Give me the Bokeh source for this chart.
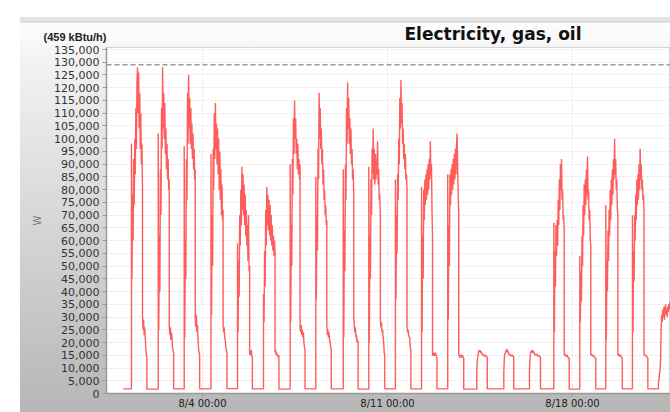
import pandas as pd
from bokeh.plotting import figure
from bokeh.models import (ColumnDataSource, FixedTicker, SingleIntervalTicker, NumeralTickFormatter,
                          CustomJSTickFormatter, Span, Title, Spacer, Range1d)
from bokeh.layouts import column, row
from bokeh.embed import file_html
from bokeh.resources import INLINE

# ---------------- data ----------------
title_text = "Electricity, gas, oil"
unit_note = "(459 kBtu/h)"
y_label = "W"

data_start = "2010-08-01 00:00"
tick_dates = ["2010-08-04 00:00", "2010-08-11 00:00", "2010-08-18 00:00"]
peak_w = 129000  # dashed reference line (W)

# time each day's occupied period starts
day_start = [
    "2010-08-01 07:30", "2010-08-02 07:48", "2010-08-03 07:24", "2010-08-04 07:42",
    "2010-08-05 07:48", "2010-08-06 07:24", "2010-08-07 07:36", "2010-08-08 06:54",
    "2010-08-09 07:48", "2010-08-10 07:00", "2010-08-11 07:12", "2010-08-12 06:54",
    "2010-08-13 06:42", "2010-08-14 09:06", "2010-08-15 09:36", "2010-08-16 08:54",
    "2010-08-17 07:00", "2010-08-18 06:36", "2010-08-19 06:12", "2010-08-20 06:24",
    "2010-08-21 06:00",
]

# daytime load, kW, every 30 minutes from the start
day_high_kw = [
    [98, 45, 78, 60, 92, 74, 100, 86, 112, 96, 122, 128, 110, 126, 104, 118, 96, 110, 90, 98, 80],
    [102, 25, 62, 40, 88, 70, 112, 96, 128, 104, 118, 100, 114, 94, 104, 88, 98, 84, 92, 80, 84],
    [97, 22, 60, 45, 92, 76, 118, 98, 125, 104, 116, 98, 112, 96, 106, 92, 102, 88, 96, 84, 88],
    [94, 31, 70, 50, 96, 80, 110, 92, 114, 96, 106, 90, 104, 86, 100, 80, 95, 76, 88, 70, 82, 68, 72],
    [59, 24, 52, 38, 70, 58, 80, 66, 89, 72, 86, 70, 82, 66, 78, 62, 72, 58, 66, 52, 70, 48, 50],
    [39, 28, 56, 42, 72, 58, 81, 66, 78, 64, 76, 62, 74, 60, 70, 58, 66, 56, 62, 54, 60, 55],
    [90, 28, 66, 50, 92, 78, 108, 94, 115, 100, 108, 94, 100, 88, 98, 86, 92, 84, 90],
    [85, 37, 70, 56, 96, 84, 118, 100, 112, 96, 104, 90, 96, 82, 88, 76, 80, 70, 74, 66, 68],
    [88, 22, 64, 48, 90, 76, 112, 98, 122, 104, 116, 98, 108, 94, 104, 90, 96, 84, 88, 78],
    [89, 20, 62, 45, 84, 70, 96, 86, 104, 84, 96, 82, 94, 84, 92, 86, 99, 82, 88, 76, 78, 70],
    [84, 37, 70, 55, 86, 76, 100, 90, 116, 104, 123, 106, 114, 98, 104, 92, 98, 88, 94, 84, 86, 80],
    [81, 24, 62, 45, 80, 68, 84, 74, 86, 76, 88, 78, 90, 80, 92, 84, 99, 86, 90, 72, 60],
    [86, 29, 66, 50, 86, 74, 88, 78, 90, 80, 92, 82, 94, 84, 96, 86, 98, 102, 88, 78, 70],
    [9, 13, 15, 16, 17, 16.5, 17, 16, 16.5, 15.5, 15, 15.5, 15, 15, 14.5, 15, 15, 14.5, 14.5, 14],
    [8, 14, 15.5, 16, 17, 16.5, 17.5, 16, 16.5, 15.5, 15, 15.5, 15, 15, 14.5, 15, 15, 14.5, 14.5],
    [9, 14, 16, 16.5, 17, 16, 17, 16, 16.5, 15.5, 15, 15.5, 15, 15.5, 15, 15, 14.5, 15, 14.5, 14.5, 14],
    [67, 24, 56, 42, 66, 54, 68, 58, 76, 66, 84, 72, 90, 80, 92, 76, 80, 68, 70, 63],
    [54, 28, 48, 36, 62, 50, 74, 62, 82, 70, 84, 74, 88, 78, 93, 76, 80, 68, 72, 60, 58],
    [74, 21, 52, 40, 64, 52, 72, 62, 80, 68, 84, 74, 88, 78, 92, 84, 100, 86, 92, 80, 84, 72, 70],
    [70, 24, 56, 44, 70, 60, 78, 68, 84, 74, 86, 76, 90, 80, 96, 84, 90, 80, 84, 76, 78, 72],
    [4, 6, 8, 9, 14, 26, 31, 28, 33, 30, 34, 29, 32, 35, 31, 33, 30, 34, 32, 35, 33, 36, 34],
]

# evening load, kW, every 30 minutes after the daytime drop
day_mid_kw = [
    [30, 25, 29, 23, 26, 22, 18, 15, 14],
    [27, 23, 26, 21, 24, 22, 18, 17, 16],
    [30, 26, 31, 24, 27, 22, 18, 16, 15],
    [27, 24, 26, 22, 21, 18, 17, 16],
    [16, 15, 16, 17, 15, 14],
    [16, 17, 15, 16, 15, 15, 14, 15],
    [26, 24, 27, 23, 25, 22, 24, 20, 18, 17],
    [27, 23, 25, 22, 24, 21, 20, 18, 18],
    [30, 27, 24, 26, 22, 23, 20, 21, 20],
    [29, 26, 28, 24, 25, 22, 20, 16, 15],
    [26, 24, 25, 23, 22, 22, 18, 17],
    [15, 15, 16, 15, 15, 16, 15, 15, 14],
    [15, 15, 14, 15, 15, 15, 14, 15, 14, 14],
    [],
    [],
    [],
    [15, 15.5, 15, 14.5, 15, 15, 14.5, 14, 14, 14],
    [15, 15.5, 15, 15, 14.5, 15, 14.5, 14, 14, 14],
    [15, 15, 15.5, 15, 14.5, 15, 14.5, 14, 14],
    [15, 15.5, 15, 15, 14.5, 14.5, 14, 14],
    [],
]

# overnight base load preceding each day, kW
night_base_kw = [1.8, 1.7, 1.8, 1.8, 1.9, 1.8, 1.7, 1.8, 1.8, 1.7, 1.8,
                 1.8, 1.8, 1.7, 1.8, 1.8, 1.8, 1.7, 1.8, 1.8, 1.8]

# ---------------- build series ----------------
step = pd.Timedelta(minutes=30)
xs, ys = [pd.Timestamp(data_start)], [night_base_kw[0] * 1000]
n_days = len(day_start)
for i in range(n_days):
    t0 = pd.Timestamp(day_start[i])
    xs.append(t0); ys.append(night_base_kw[i] * 1000)
    hi = day_high_kw[i]
    for k, v in enumerate(hi):
        xs.append(t0 + k * step); ys.append(v * 1000)
    t1 = t0 + (len(hi) - 1) * step
    mid = day_mid_kw[i]
    for k, v in enumerate(mid):
        xs.append(t1 + k * step); ys.append(v * 1000)
    t2 = t1 + max(len(mid) - 1, 0) * step
    if i < n_days - 1:
        xs.append(t2); ys.append(night_base_kw[i + 1] * 1000)

src = ColumnDataSource(data=dict(t=xs, w=ys))

# ---------------- figure ----------------
p = figure(width=650, height=395, x_axis_type="datetime",
           output_backend="svg", toolbar_location=None,
           x_range=Range1d(pd.Timestamp("2010-07-31 08:50"), pd.Timestamp("2010-08-21 16:58")),
           y_range=Range1d(0, 135785),
           min_border_left=86, min_border_right=0, min_border_top=30, min_border_bottom=19)

p.background_fill_color = "white"
p.border_fill_color = None
p.outline_line_color = "#d4d4d4"
p.styles = {"background": "linear-gradient(to bottom, #e3e3e3 0px, #e3e3e3 4px, #cdcdcd 5px, "
                          "#fdfdfd 6px, #f3f3f3 40px, #b6b6b6 100%)"}

p.line("t", "w", source=src, line_color="#ff4a4a", line_width=1.4, line_alpha=0.9)

p.add_layout(Span(location=peak_w, dimension="width", line_color="#9a9a9a",
                  line_dash="5 3", line_width=1.5))

# titles (side-panel texts)
p.title.text = title_text
p.title.align = "left"
p.title.offset = 298
p.title.standoff = -41
p.title.text_font = "DejaVu Sans"
p.title.text_font_style = "bold"
p.title.text_font_size = "17px"
p.title.text_color = "#111111"

p.add_layout(Title(text=unit_note, align="left", offset=-63, standoff=10,
                   text_font="Liberation Sans", text_font_style="bold",
                   text_font_size="11px", text_color="#222222"), "above")

# axes
p.yaxis.axis_label = y_label
p.yaxis.axis_label_text_font = "DejaVu Sans"
p.yaxis.axis_label_text_font_style = "normal"
p.yaxis.axis_label_text_font_size = "10px"
p.yaxis.axis_label_text_color = "#777777"
p.yaxis.axis_label_standoff = 8
p.yaxis.ticker = SingleIntervalTicker(interval=5000, num_minor_ticks=0)
p.yaxis.formatter = NumeralTickFormatter(format="0,0")
p.yaxis.major_label_text_font = "DejaVu Sans"
p.yaxis.major_label_text_font_size = "11px"
p.yaxis.major_label_text_color = "#333333"
p.yaxis.major_tick_out = 4
p.yaxis.major_tick_in = 0
p.yaxis.minor_tick_out = 0
p.yaxis.major_label_standoff = 3
p.yaxis.axis_line_color = "#9a9a9a"
p.yaxis.axis_line_width = 1.5
p.yaxis.major_tick_line_color = "#9a9a9a"

tick_ms = [pd.Timestamp(d).value / 1e6 for d in tick_dates]
p.xaxis.ticker = FixedTicker(ticks=tick_ms)
p.xaxis.formatter = CustomJSTickFormatter(code="""
    const d = new Date(tick);
    const hh = String(d.getUTCHours()).padStart(2, '0');
    const mm = String(d.getUTCMinutes()).padStart(2, '0');
    return (d.getUTCMonth() + 1) + '/' + d.getUTCDate() + ' ' + hh + ':' + mm;
""")
p.xaxis.major_label_text_font = "DejaVu Sans"
p.xaxis.major_label_text_font_size = "10px"
p.xaxis.major_label_text_color = "#222222"
p.xaxis.major_tick_out = 3
p.xaxis.major_tick_in = 0
p.xaxis.minor_tick_out = 0
p.xaxis.major_label_standoff = 1
p.xaxis.axis_line_color = "#9a9a9a"
p.xaxis.axis_line_width = 1.5
p.xaxis.major_tick_line_color = "#9a9a9a"

p.ygrid.grid_line_color = "#e2e2e2"
p.ygrid.grid_line_dash = "2 2"
p.xgrid.grid_line_color = "#d6d6d6"
p.xgrid.grid_line_dash = "1 2"

layout = column(Spacer(height=17), row(Spacer(width=20), p))

open("out.html", "w").write(file_html(layout, INLINE))
